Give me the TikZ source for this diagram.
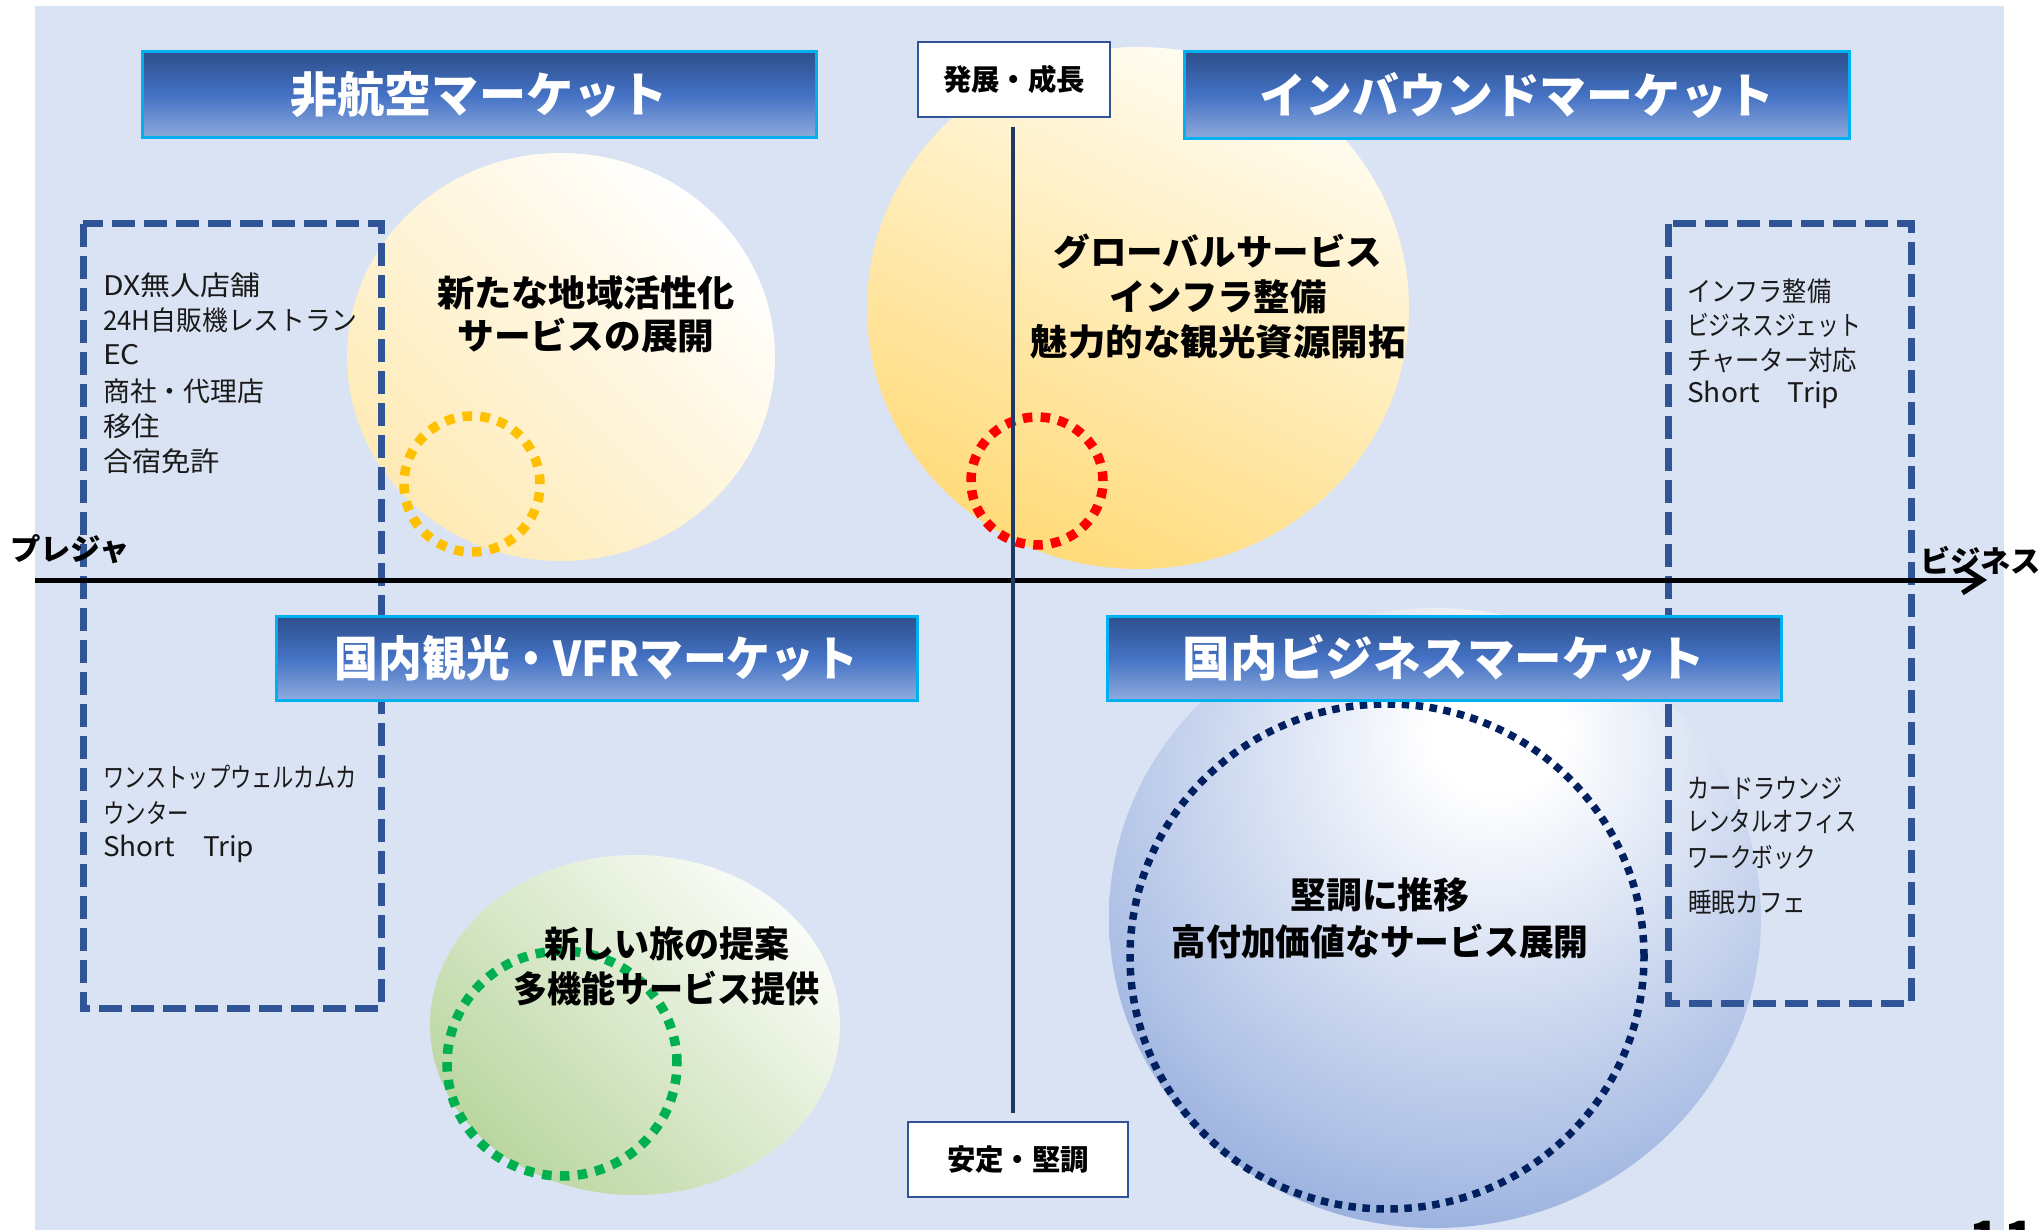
\documentclass[tikz,border=0pt]{standalone}
\usepackage{fontspec}
\setmainfont{Noto Sans CJK JP}
\usetikzlibrary{arrows.meta}
\definecolor{bgblue}{HTML}{DAE3F3}
\definecolor{ttop}{HTML}{2D4F8C}
\definecolor{tmid}{HTML}{4472C4}
\definecolor{tbot}{HTML}{8FAADC}
\definecolor{cyanb}{HTML}{00B0F0}
\definecolor{dashblue}{HTML}{2F5597}
\definecolor{axnavy}{HTML}{1F3864}
\definecolor{ylsmall}{HTML}{FEEAB4}
\definecolor{ylbig}{HTML}{FFDA78}
\definecolor{ylbigtop}{HTML}{FFFDF4}
\definecolor{grn}{HTML}{BAD6A0}
\definecolor{grntop}{HTML}{FAFCF7}
\definecolor{bA}{HTML}{AFC1E6}
\definecolor{bB}{HTML}{7696D1}
\definecolor{dotorange}{HTML}{FFC000}
\definecolor{dotred}{HTML}{FF0000}
\definecolor{dotgreen}{HTML}{00B050}
\definecolor{dotnavy}{HTML}{002060}
\definecolor{txt}{HTML}{1A1A1A}
\pgfdeclareradialshading{blueglow}{\pgfpoint{5bp}{16bp}}{color(0bp)=(white); color(5bp)=(white); color(30bp)=(bA); color(45bp)=(bB); color(90bp)=(bB)}
\newcommand{\fitw}[2]{\resizebox{#1}{\height}{#2}}
\begin{document}
\begin{tikzpicture}[x=1pt,y=-1pt,
  titlebox/.style={draw=cyanb, line width=3pt, top color=ttop, bottom color=tbot, middle color=tmid, text=white, font=\fontsize{48}{52}\selectfont\bfseries, inner sep=0pt},
  axbox/.style={draw=dashblue, line width=2.5pt, fill=white, font=\fontsize{29}{32}\selectfont\bfseries, inner sep=0pt},
  ctext/.style={align=center, inner sep=0pt, text=black, font=\fontsize{36}{45}\selectfont\bfseries},
  listtxt/.style={anchor=west, inner sep=0pt, text=txt, font=\fontsize{27}{30}\selectfont},
  axlabel/.style={anchor=west, inner sep=0pt, text=black, font=\fontsize{30}{32}\selectfont\bfseries},
  dashbox/.style={draw=dashblue, line width=7pt, dash pattern=on 23pt off 9pt},
  dotring/.style={line width=9.5pt, dash pattern=on 9.5pt off 8.3pt}
]
\useasboundingbox (0,0) rectangle (2043,1230);
\fill[bgblue] (35,6) rectangle (2004,1230);

% gradient ellipses
\path[top color=white, bottom color=ylsmall, shading angle=-45] (561,357) ellipse [x radius=214pt, y radius=204pt];
\path[top color=ylbigtop, bottom color=ylbig, shading angle=-25] (1138,308) ellipse [x radius=271pt, y radius=261pt];
\path[top color=grntop, bottom color=grn, shading angle=-45] (635,1025) ellipse [x radius=205pt, y radius=170pt];
\path[shading=blueglow] (1435,918) ellipse [x radius=326pt, y radius=310pt];

% dotted rings
\draw[dotring, draw=dotorange] (472,484) ellipse [x radius=68pt, y radius=68pt];
\draw[dotring, draw=dotred] (1037,481) ellipse [x radius=66pt, y radius=64pt];
\draw[dotring, draw=dotgreen] (562,1063.5) ellipse [x radius=115pt, y radius=112.5pt];
\draw[draw=dotnavy, line width=7.5pt, dash pattern=on 7.5pt off 6.5pt] (1387,956.5) ellipse [x radius=257pt, y radius=252.5pt];

% dashed boxes
\draw[dashbox] (83,224) rectangle (381,1008);
\draw[dashbox] (1668,224) rectangle (1911,1003);

% axes
\coordinate (hl) at (35,580);
\coordinate (hr) at (1987,580);
\draw[line width=5pt, -{Straight Barb[length=20pt, width=26pt]}] (hl) -- (hr);
\coordinate (vtop) at (1013,127);
\coordinate (vbot) at (1013,1113);
\draw[line width=4.5pt, draw=axnavy] (vtop) -- (vbot);

% axis label boxes
\node[axbox, minimum width=192pt, minimum height=75pt] (grow) at (1014,79.5) {\fitw{142pt}{発展・成長}};
\node[axbox, minimum width=220pt, minimum height=75pt] (stable) at (1018,1159.5) {\fitw{142pt}{安定・堅調}};

% axis end labels
\node[axlabel] (pleasure) at (10,549) {\fitw{120pt}{プレジャ}};
\node[axlabel] (business) at (1920,560) {\fitw{121pt}{ビジネス}};

% title boxes
\node[titlebox, minimum width=674pt, minimum height=86pt] (tNonAero) at (479,95) {\fitw{377pt}{非航空マーケット}};
\node[titlebox, minimum width=665pt, minimum height=87pt] (tInbound) at (1516.5,95.5) {\fitw{515pt}{インバウンドマーケット}};
\node[titlebox, minimum width=641pt, minimum height=84pt] (tDomTour) at (596.5,658) {\fitw{523pt}{国内観光・VFRマーケット}};
\node[titlebox, minimum width=674pt, minimum height=84pt] (tDomBiz) at (1444,658) {\fitw{522pt}{国内ビジネスマーケット}};

% ellipse texts
\node[ctext, font=\fontsize{36}{43}\selectfont\bfseries] (cLocal) at (586,314.5) {\fitw{298pt}{新たな地域活性化}\\\fitw{257pt}{サービスの展開}};
\node[ctext] (cGlobal) at (1218,297) {\fitw{329pt}{グローバルサービス}\\\fitw{217pt}{インフラ整備}\\\fitw{375pt}{魅力的な観光資源開拓}};
\node[ctext] (cTrip) at (666.5,966.5) {\fitw{245pt}{新しい旅の提案}\\\fitw{307pt}{多機能サービス提供}};
\node[ctext, font=\fontsize{36}{47}\selectfont\bfseries] (cSteady) at (1380,918.5) {\fitw{179pt}{堅調に推移}\\\fitw{417pt}{高付加価値なサービス展開}};

% left lists
\node[listtxt] (l1) at (103,285) {\fitw{157pt}{DX無人店舗}};
\node[listtxt] (l2) at (103,320) {\fitw{254pt}{24H自販機レストラン}};
\node[listtxt] (l3) at (103,355) {\fitw{37pt}{EC}};
\node[listtxt] (l4) at (103,391) {\fitw{161pt}{商社・代理店}};
\node[listtxt] (l5) at (103,426) {\fitw{57pt}{移住}};
\node[listtxt] (l6) at (103,461) {\fitw{117pt}{合宿免許}};
\node[listtxt] (l7) at (103,777) {\fitw{254pt}{ワンストップウェルカムカ}};
\node[listtxt] (l8) at (103,813) {\fitw{86pt}{ウンター}};
\node[listtxt] (l9) at (103,849) {\fitw{151pt}{Short　Trip}};

% right lists
\node[listtxt] (r1) at (1687,291) {\fitw{144pt}{インフラ整備}};
\node[listtxt] (r2) at (1687,325) {\fitw{174pt}{ビジネスジェット}};
\node[listtxt] (r3) at (1687,360) {\fitw{170pt}{チャーター対応}};
\node[listtxt] (r4) at (1687,395) {\fitw{152pt}{Short　Trip}};
\node[listtxt] (r5) at (1687,788) {\fitw{155pt}{カードラウンジ}};
\node[listtxt] (r6) at (1687,822) {\fitw{170pt}{レンタルオフィス}};
\node[listtxt] (r7) at (1687,857) {\fitw{129pt}{ワークボック}};
\node[listtxt] (r8) at (1688,902) {\fitw{118pt}{睡眠カフェ}};

% page number (cut by the page edge)
\node[anchor=north, inner sep=0pt, font=\fontsize{50}{52}\selectfont\bfseries] (pg) at (2002,1221) {1\hspace{4pt}1};
\end{tikzpicture}
\end{document}
